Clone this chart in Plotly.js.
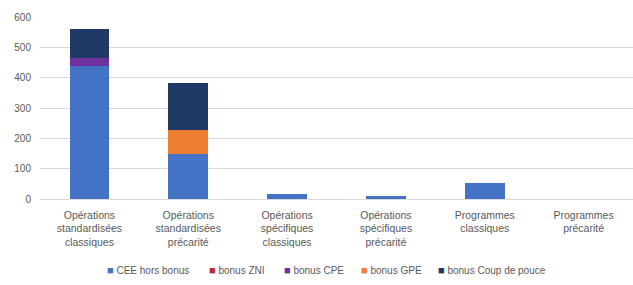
<!DOCTYPE html>
<html><head><meta charset="utf-8">
<script src="https://cdn.plot.ly/plotly-3.0.1.min.js"></script>
<style>html,body{margin:0;padding:0;background:#fff}#c{width:633px;height:285px}</style>
</head><body><div id="c"></div>
<script>
const categories = ["Opérations<br>standardisées<br>classiques","Opérations<br>standardisées<br>précarité","Opérations<br>spécifiques<br>classiques","Opérations<br>spécifiques<br>précarité","Programmes<br>classiques","Programmes<br>précarité"];
const ceeHorsBonus = [437, 149, 15, 10, 52, 0];
const bonusZNI = [0, 0, 0, 0, 0, 0];
const bonusCPE = [28, 0, 0, 0, 0, 0];
const bonusGPE = [0, 77, 0, 0, 0, 0];
const bonusCoupDePouce = [95, 158, 0, 0, 0, 0];
const seriesNames = ["CEE hors bonus","bonus ZNI","bonus CPE","bonus GPE","bonus Coup de pouce"];
const seriesColors = ["#4472C4","#C0293A","#7030A0","#ED7D31","#203864"];
const seriesValues = [ceeHorsBonus, bonusZNI, bonusCPE, bonusGPE, bonusCoupDePouce];
const legendX = [0.109, 0.281, 0.408, 0.538, 0.668];

const data = seriesValues.map((v,i)=>({type:'bar', x:categories, y:v, name:seriesNames[i], marker:{color:seriesColors[i]}, showlegend:false}));
const annotations = seriesNames.map((n,i)=>({
  xref:'paper', yref:'paper', x:legendX[i], y:-0.39, xanchor:'left', yanchor:'middle', showarrow:false,
  text:'<span style="color:'+seriesColors[i]+';font-size:11px">■</span>\u00A0'+n,
  font:{family:'Liberation Sans, Arial, sans-serif', size:10, color:'#595959'}
}));
const layout = {
  width:633, height:285, barmode:'stack', bargap:0.6,
  margin:{l:40,r:0,t:17,b:86},
  paper_bgcolor:'#fff', plot_bgcolor:'#fff',
  font:{family:'Liberation Sans, Arial, sans-serif', size:10, color:'#595959'},
  xaxis:{tickfont:{size:10.5,color:'#595959'}, showline:true, linecolor:'#d9d9d9', ticks:'', showgrid:false, ticklabelstandoff:6},
  yaxis:{range:[0,600], dtick:100, gridcolor:'#d9d9d9', zeroline:false, tickfont:{size:10,color:'#595959'}, ticks:'', ticklabelstandoff:8},
  showlegend:false,
  annotations:annotations
};
Plotly.newPlot('c', data, layout, {staticPlot:true});
</script></body></html>
